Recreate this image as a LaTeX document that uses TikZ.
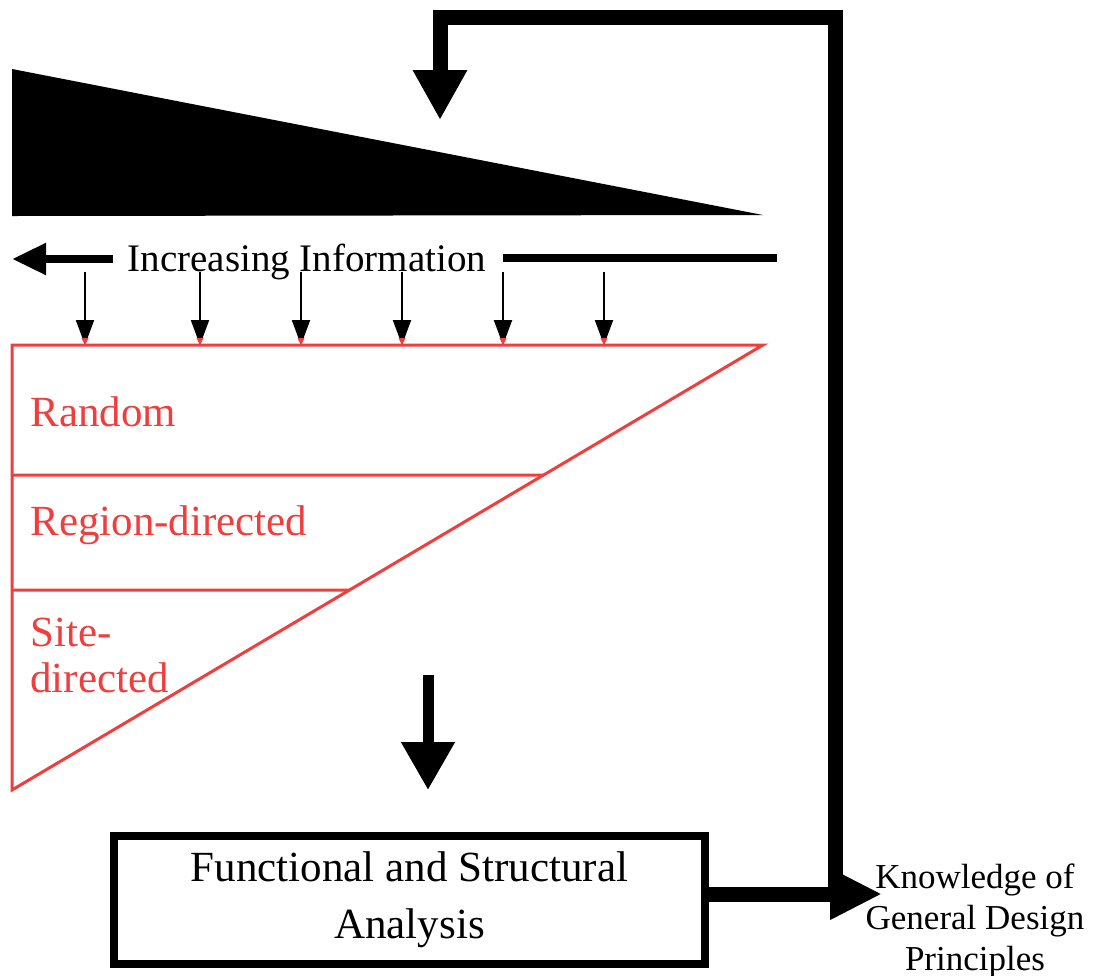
\documentclass[tikz,border=0pt]{standalone}
\usepackage{fontspec}
\setmainfont{Liberation Serif}
\usetikzlibrary{arrows.meta,calc,intersections}
\definecolor{redline}{RGB}{238,62,62}

\begin{document}
\begin{tikzpicture}[x=0.5pt,y=-0.5pt,
  bigarrow/.style={line width=7.5pt,-{Triangle[length=25pt,width=25.5pt]}},
  infoline/.style={line width=4pt},
  tick/.style={line width=1pt,-{Triangle[length=12.5pt,width=9pt]}},
  lab/.style={redline,right,inner sep=0pt,font=\fontsize{21.5}{23}\selectfont,align=left}]
\useasboundingbox (0,0) rectangle (1094,976);
\fill (12,69) -- (12,216) -- (763,215) -- cycle;
\node (inc) at (307,262) [inner sep=0pt,font=\fontsize{19.5}{22}\selectfont] {Increasing Information};
\coordinate (L0) at (12,259);
\coordinate (L1) at (113,259);
\coordinate (R0) at (503,258);
\coordinate (R1) at (777,258);
\draw[infoline,-{Triangle[length=17pt,width=15pt]}] (L1) -- (L0);
\draw[infoline] (R0) -- (R1);
\foreach \x in {85,200,301,402,503,604}
  \draw[tick] (\x,272) -- (\x,345);
\coordinate (A) at (12,345);
\coordinate (B) at (763,345);
\coordinate (C) at (12,790);
\coordinate (X) at (intersection cs:first line={(B)--(C)}, second line={(12,475)--(100,475)});
\coordinate (Y) at (intersection cs:first line={(B)--(C)}, second line={(12,590)--(100,590)});
\draw[redline,line width=1.5pt] (A) -- (B) -- (C) -- cycle;
\draw[redline,line width=1.5pt] (12,475) -- (X);
\draw[redline,line width=1.5pt] (12,590) -- (Y);
\foreach \x in {85,200,301,402,503,604}
  \fill[redline] (\x-3.5,338) -- (\x+3.5,338) -- (\x,345) -- cycle;
\node (rnd) at (30,412) [lab] {Random};
\node (reg) at (30,525) [lab] {Region-directed};
\node (site) at (30,655) [lab] {Site-\\directed};
\coordinate (D0) at (428,675);
\coordinate (D1) at (428,790);
\draw[line width=5.5pt,-{Triangle[length=24pt,width=25.5pt]}] (D0) -- (D1);
\node (fsa) at (409.5,900) [draw,line width=4pt,minimum width=295.5pt,minimum height=64pt,inner sep=0pt,
  align=center,font=\fontsize{21.5}{28.5}\selectfont] {Functional and Structural\\Analysis};
\node (kgdp) at (975,921) [align=center,inner sep=0pt,font=\fontsize{17.5}{20.5}\selectfont]
  {Knowledge of\\General Design\\Principles};
\coordinate (K) at (882,894);
\coordinate (J) at (835,894);
\coordinate (T) at (440,120);
\draw[line width=7.5pt,-{Triangle[length=26pt,width=24pt]}] (fsa.east |- K) -- (K);
\draw[bigarrow] (J) -- (835,17) -- (440,17) -- (T);
\end{tikzpicture}
\end{document}
